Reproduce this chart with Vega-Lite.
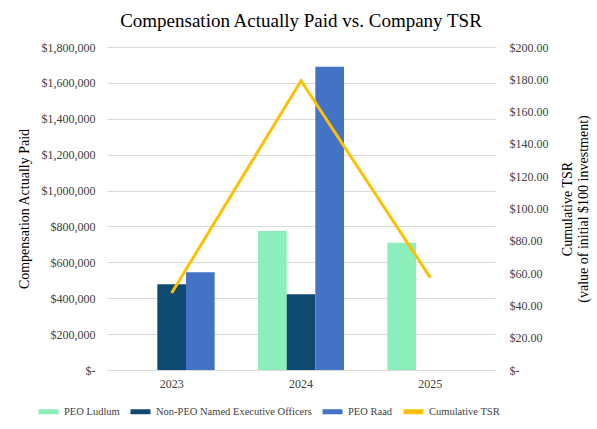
{
  "$schema": "https://vega.github.io/schema/vega-lite/v6.json",
  "autosize": "none",
  "width": 388,
  "height": 323,
  "padding": {"left": 107, "top": 47, "right": 102, "bottom": 59},
  "background": "white",
  "title": {
    "text": "Compensation Actually Paid vs. Company TSR",
    "font": "Liberation Serif",
    "fontSize": 19,
    "fontWeight": "normal",
    "color": "black",
    "anchor": "middle",
    "offset": 10
  },
  "data": {
    "values": [
      {"year": "2023", "series": "Non-PEO Named Executive Officers", "value": 477600},
      {"year": "2023", "series": "PEO Raad", "value": 544500},
      {"year": "2024", "series": "PEO Ludlum", "value": 774600},
      {"year": "2024", "series": "Non-PEO Named Executive Officers", "value": 421900},
      {"year": "2024", "series": "PEO Raad", "value": 1690000},
      {"year": "2025", "series": "PEO Ludlum", "value": 709400},
      {"year": "2023", "series": "Cumulative TSR", "value": 47.7},
      {"year": "2024", "series": "Cumulative TSR", "value": 179.1},
      {"year": "2025", "series": "Cumulative TSR", "value": 57.2}
    ]
  },
  "encoding": {
    "x": {
      "field": "year",
      "type": "nominal",
      "scale": {"paddingInner": 0.335, "paddingOuter": 0.1675},
      "axis": {
        "title": null,
        "labelAngle": 0,
        "ticks": false,
        "domainColor": "#d9d9d9",
        "labelPadding": 8
      }
    },
    "color": {
      "field": "series",
      "type": "nominal",
      "scale": {
        "domain": ["PEO Ludlum", "Non-PEO Named Executive Officers", "PEO Raad", "Cumulative TSR"],
        "range": ["#8ceebb", "#0f4a72", "#4472c4", "#ffc000"]
      },
      "legend": {
        "title": null,
        "orient": "none",
        "legendX": -71,
        "legendY": 352,
        "direction": "horizontal",
        "symbolType": "stroke",
        "symbolSize": 400,
        "symbolStrokeWidth": 5,
        "labelLimit": 400,
        "labelOffset": 3,
        "columnPadding": 0
      }
    }
  },
  "layer": [
    {
      "transform": [{"filter": "datum.series != 'Cumulative TSR'"}],
      "mark": {"type": "bar"},
      "encoding": {
        "xOffset": {
          "field": "series",
          "scale": {"domain": ["PEO Ludlum", "Non-PEO Named Executive Officers", "PEO Raad"]}
        },
        "y": {
          "field": "value",
          "type": "quantitative",
          "scale": {"domain": [0, 1800000]},
          "axis": {
            "title": "Compensation Actually Paid",
            "titlePadding": 10,
            "values": [0, 200000, 400000, 600000, 800000, 1000000, 1200000, 1400000, 1600000, 1800000],
            "labelExpr": "datum.value == 0 ? '$-    ' : format(datum.value, '$,.0f')",
            "labelPadding": 12,
            "ticks": false,
            "domain": false,
            "gridColor": "#d9d9d9"
          }
        }
      }
    },
    {
      "transform": [{"filter": "datum.series == 'Cumulative TSR'"}],
      "mark": {"type": "line", "strokeWidth": 3},
      "encoding": {
        "y": {
          "field": "value",
          "type": "quantitative",
          "scale": {"domain": [0, 200]},
          "axis": {
            "orient": "right",
            "title": ["Cumulative TSR", "(value of initial $100 investment)"],
            "titleAngle": -90,
            "titlePadding": 10,
            "values": [0, 20, 40, 60, 80, 100, 120, 140, 160, 180, 200],
            "labelExpr": "datum.value == 0 ? '$-' : format(datum.value, '$,.2f')",
            "labelPadding": 14,
            "ticks": false,
            "domain": false,
            "grid": false
          }
        }
      }
    }
  ],
  "resolve": {"scale": {"y": "independent"}},
  "config": {
    "view": {"stroke": null},
    "axis": {
      "labelFont": "Liberation Serif",
      "labelFontSize": 12,
      "labelColor": "#404040",
      "titleFont": "Liberation Serif",
      "titleFontSize": 14,
      "titleFontWeight": "normal",
      "titleColor": "black"
    },
    "legend": {
      "labelFont": "Liberation Serif",
      "labelFontSize": 10.5,
      "labelColor": "#404040"
    }
  }
}
